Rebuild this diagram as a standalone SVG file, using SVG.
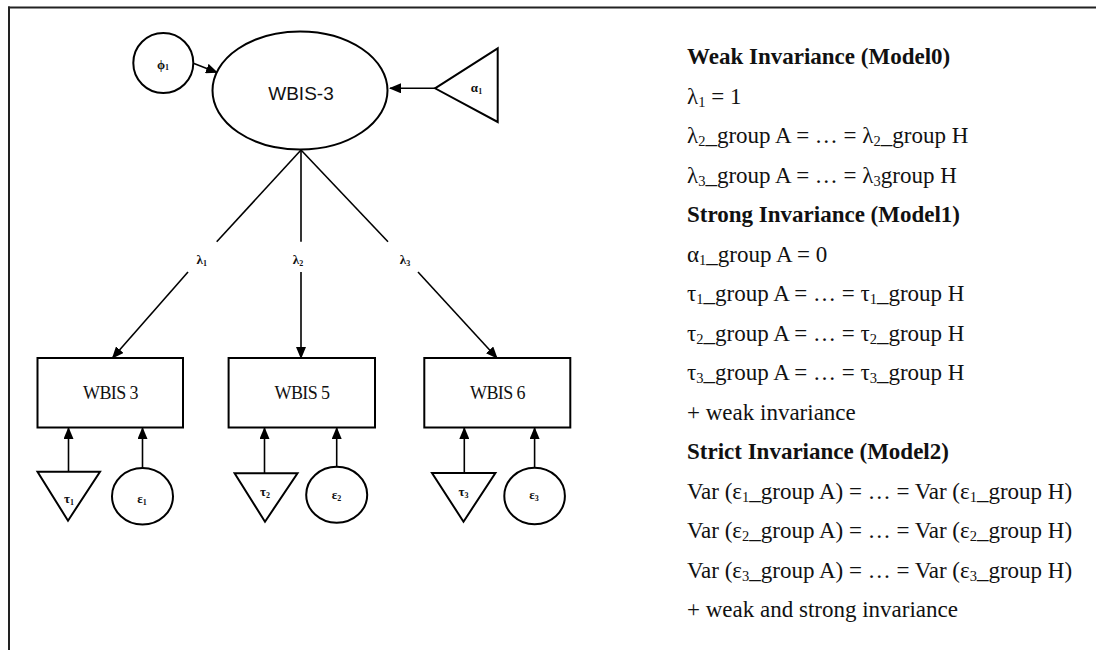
<svg xmlns="http://www.w3.org/2000/svg" width="1096" height="650" viewBox="0 0 1096 650">
<defs>
<marker id="ah" markerUnits="userSpaceOnUse" markerWidth="12" markerHeight="10" refX="11" refY="5" orient="auto">
<path d="M0,0 L12,5 L0,10 Z" fill="#000"/>
</marker>
<style>
.sh{fill:#fff;stroke:#000;stroke-width:2}
.ln{fill:none;stroke:#000;stroke-width:1.6}
.ar{fill:none;stroke:#000;stroke-width:1.6;marker-end:url(#ah)}
.sm{font-family:"Liberation Serif",serif;font-size:13px;font-weight:bold;text-anchor:middle;fill:#111}
.bx{font-family:"Liberation Serif",serif;font-size:18px;text-anchor:middle;letter-spacing:-0.6px;fill:#111}
.rt{font-family:"Liberation Serif",serif;font-size:23px;fill:#111}
.rb{font-weight:bold}
</style>
</defs>
<rect width="1096" height="650" fill="#fff"/>
<g id="frame">
<line x1="8" y1="7.5" x2="1096" y2="7.5" stroke="#222" stroke-width="2"/>
<line x1="9" y1="6.5" x2="9" y2="650" stroke="#222" stroke-width="2"/>
</g>
<g id="connectors">
<line class="ar" x1="194" y1="63.5" x2="217" y2="72.5"/>
<line class="ar" x1="435" y1="88.3" x2="390" y2="88.3"/>
<line class="ln" x1="301" y1="150" x2="216.7" y2="241.7"/>
<line class="ar" x1="188" y1="272" x2="112.5" y2="358"/>
<line class="ln" x1="301" y1="150" x2="301" y2="241.7"/>
<line class="ar" x1="301" y1="272" x2="301" y2="358"/>
<line class="ln" x1="301" y1="150" x2="388" y2="241.7"/>
<line class="ar" x1="418" y1="272" x2="497" y2="358"/>
<line class="ar" x1="68.5" y1="471.7" x2="68.5" y2="428"/>
<line class="ar" x1="142.5" y1="468" x2="142.5" y2="428"/>
<line class="ar" x1="264.5" y1="473" x2="264.5" y2="428"/>
<line class="ar" x1="336.7" y1="466.7" x2="336.7" y2="428"/>
<line class="ar" x1="464.3" y1="473" x2="464.3" y2="428"/>
<line class="ar" x1="534.6" y1="467.7" x2="534.6" y2="428"/>
<text class="sm" x="201.7" y="264">λ<tspan font-size="8" dy="2">1</tspan></text>
<text class="sm" x="298" y="264">λ<tspan font-size="8" dy="2">2</tspan></text>
<text class="sm" x="405" y="264">λ<tspan font-size="8" dy="2">3</tspan></text>
</g>
<g id="phi1">
<circle class="sh" cx="163.3" cy="63" r="30"/>
<text class="sm" x="163" y="69">ϕ<tspan font-size="8" dy="1">1</tspan></text>
</g>
<g id="wbis3-latent">
<ellipse class="sh" cx="300" cy="90.5" rx="87.5" ry="59"/>
<text x="301" y="100" font-family="'Liberation Sans',Arial,sans-serif" font-size="19" text-anchor="middle" fill="#111">WBIS-3</text>
</g>
<g id="alpha1">
<polygon class="sh" points="435,88.3 497.7,48.3 497.7,122"/>
<text class="sm" x="476.5" y="92" font-weight="normal">α<tspan font-size="8" dy="2">1</tspan></text>
</g>
<g id="wbis3-box">
<rect class="sh" x="37.5" y="358" width="145.5" height="69.5"/>
<text class="bx" x="110.5" y="399">WBIS 3</text>
</g>
<g id="wbis5-box">
<rect class="sh" x="228.6" y="358" width="146.4" height="69.5"/>
<text class="bx" x="302" y="399">WBIS 5</text>
</g>
<g id="wbis6-box">
<rect class="sh" x="424.3" y="358" width="146" height="69.5"/>
<text class="bx" x="497.5" y="399">WBIS 6</text>
</g>
<g id="tau1">
<polygon class="sh" points="37.5,471.7 100,471.7 68,520.7"/>
<text class="sm" x="69" y="503" font-weight="normal">τ<tspan font-size="8" dy="2">1</tspan></text>
</g>
<g id="eps1">
<ellipse class="sh" cx="142.5" cy="496.3" rx="30.5" ry="28.3"/>
<text class="sm" x="142" y="503" font-weight="normal">ε<tspan font-size="8" dy="2">1</tspan></text>
</g>
<g id="tau2">
<polygon class="sh" points="234.6,473.3 297.5,473.3 265,521.7"/>
<text class="sm" x="265" y="496" font-weight="normal">τ<tspan font-size="8" dy="2">2</tspan></text>
</g>
<g id="eps2">
<ellipse class="sh" cx="336.7" cy="494.7" rx="30.5" ry="28"/>
<text class="sm" x="336.5" y="499" font-weight="normal">ε<tspan font-size="8" dy="2">2</tspan></text>
</g>
<g id="tau3">
<polygon class="sh" points="432,473 495.4,473 463.5,521.7"/>
<text class="sm" x="463.5" y="496" font-weight="normal">τ<tspan font-size="8" dy="2">3</tspan></text>
</g>
<g id="eps3">
<ellipse class="sh" cx="534.6" cy="496" rx="30.3" ry="28.3"/>
<text class="sm" x="534" y="499" font-weight="normal">ε<tspan font-size="8" dy="2">3</tspan></text>
</g>
<g id="constraints" class="rt">
<text class="rt rb" x="687" y="64">Weak Invariance (Model0)</text>
<text class="rt" x="687" y="103.5">λ<tspan font-size="14.5" dy="3">1</tspan><tspan dy="-3"> = 1</tspan></text>
<text class="rt" x="687" y="143">λ<tspan font-size="14.5" dy="3">2</tspan><tspan dy="-3">_group A = … = λ</tspan><tspan font-size="14.5" dy="3">2</tspan><tspan dy="-3">_group H</tspan></text>
<text class="rt" x="687" y="182.5">λ<tspan font-size="14.5" dy="3">3</tspan><tspan dy="-3">_group A = … = λ</tspan><tspan font-size="14.5" dy="3">3</tspan><tspan dy="-3">group H</tspan></text>
<text class="rt rb" x="687" y="222">Strong Invariance (Model1)</text>
<text class="rt" x="687" y="261.5">α<tspan font-size="14.5" dy="3">1</tspan><tspan dy="-3">_group A = 0</tspan></text>
<text class="rt" x="687" y="301">τ<tspan font-size="14.5" dy="3">1</tspan><tspan dy="-3">_group A = … = τ</tspan><tspan font-size="14.5" dy="3">1</tspan><tspan dy="-3">_group H</tspan></text>
<text class="rt" x="687" y="340.5">τ<tspan font-size="14.5" dy="3">2</tspan><tspan dy="-3">_group A = … = τ</tspan><tspan font-size="14.5" dy="3">2</tspan><tspan dy="-3">_group H</tspan></text>
<text class="rt" x="687" y="380">τ<tspan font-size="14.5" dy="3">3</tspan><tspan dy="-3">_group A = … = τ</tspan><tspan font-size="14.5" dy="3">3</tspan><tspan dy="-3">_group H</tspan></text>
<text class="rt" x="687" y="419.5">+ weak invariance</text>
<text class="rt rb" x="687" y="459">Strict Invariance (Model2)</text>
<text class="rt" x="687" y="498.5">Var (ε<tspan font-size="14.5" dy="3">1</tspan><tspan dy="-3">_group A) = … = Var (ε</tspan><tspan font-size="14.5" dy="3">1</tspan><tspan dy="-3">_group H)</tspan></text>
<text class="rt" x="687" y="538">Var (ε<tspan font-size="14.5" dy="3">2</tspan><tspan dy="-3">_group A) = … = Var (ε</tspan><tspan font-size="14.5" dy="3">2</tspan><tspan dy="-3">_group H)</tspan></text>
<text class="rt" x="687" y="577.5">Var (ε<tspan font-size="14.5" dy="3">3</tspan><tspan dy="-3">_group A) = … = Var (ε</tspan><tspan font-size="14.5" dy="3">3</tspan><tspan dy="-3">_group H)</tspan></text>
<text class="rt" x="687" y="617">+ weak and strong invariance</text>
</g>
</svg>
